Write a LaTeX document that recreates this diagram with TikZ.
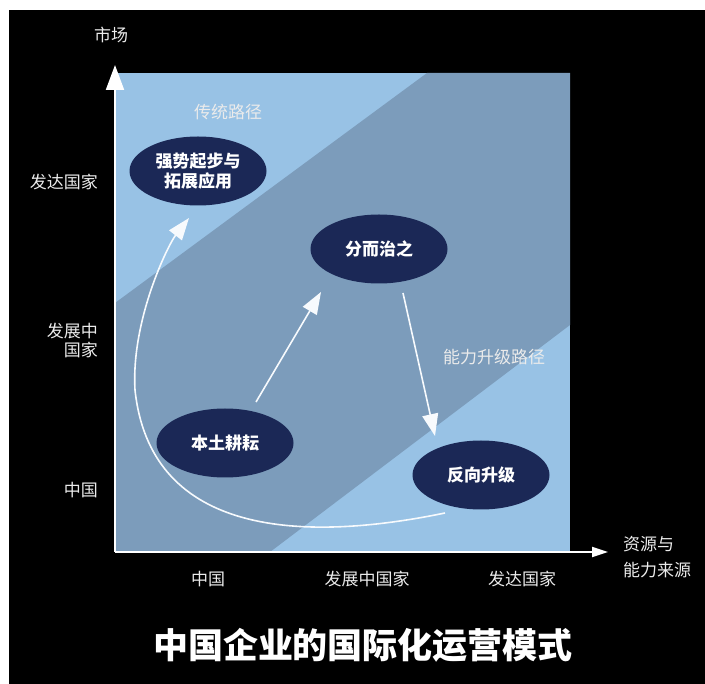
\documentclass[tikz,border=0pt]{standalone}
\usepackage{fontspec}
\newfontfamily\cjk{Noto Sans CJK SC}
\usetikzlibrary{shapes.geometric,arrows.meta,calc}
\definecolor{lightb}{RGB}{152,194,229}
\definecolor{bandb}{RGB}{124,156,187}
\definecolor{navy}{RGB}{27,40,86}
\definecolor{txt}{RGB}{235,235,235}
\begin{document}
\begin{tikzpicture}[x=1pt,y=-1pt,
  oval/.style={ellipse, fill=navy, minimum width=137pt, minimum height=69pt, inner sep=0pt, text=white, font=\cjk\bfseries\fontsize{17}{20}\selectfont, align=center},
  lbl/.style={text=txt, font=\cjk\fontsize{17}{19}\selectfont, inner sep=0pt},
  arr/.style={draw=white!92!lightb, line width=1.6pt, -{Triangle[width=16pt,length=22pt]}},
]
\useasboundingbox (0,0) rectangle (705,684);
\fill[white] (0,0) rectangle (705,684);
\fill[black] (9,10) rectangle (705,684);
\fill[lightb] (115,73) rectangle (570,552);
\fill[bandb] (115,303) -- (427,73) -- (570,73) -- (570,325) -- (270,552) -- (115,552) -- cycle;
% axes
\coordinate (O) at (115,552);
\coordinate (ytip) at (115,65);
\coordinate (xtip) at (608,552);
\draw[white, line width=2pt, -{Triangle[width=18pt,length=25pt]}] (O) -- (ytip);
\draw[white, line width=2pt, -{Triangle[width=10pt,length=16pt]}] (O) -- (xtip);
% axis labels
\node[lbl] (ym) at (111,35) {市场};
\node[lbl, anchor=east] (y3) at (98,182) {发达国家};
\node[lbl, anchor=east, align=right] (y2) at (98,341) {发展中\\国家};
\node[lbl, anchor=east] (y1) at (98,490) {中国};
\node[lbl] (x1) at (208,579) {中国};
\node[lbl] (x2) at (367,579) {发展中国家};
\node[lbl] (x3) at (522,579) {发达国家};
\node[lbl, anchor=west, align=left, font=\cjk\fontsize{17}{26}\selectfont] (xm) at (623,557) {资源与\\能力来源};
% title
\node[text=white, font=\cjk\bfseries\fontsize{35}{40}\selectfont] (title) at (363,645) {中国企业的国际化运营模式};
% path labels
\node[lbl] (ct) at (228,112) {传统路径};
\node[lbl] (nl) at (494,357) {能力升级路径};
% ellipses
\node[oval] (qs) at (198,171) {强势起步与\\拓展应用};
\node[oval] (fz) at (379,249) {分而治之};
\node[oval] (bt) at (225,443) {本土耕耘};
\node[oval] (fx) at (481,475) {反向升级};
% arrows
\draw[arr] ($(bt)+(31,-41)$) -- ($(fz)+(-58,43)$);
\draw[arr] ($(fz)+(24,44)$) -- ($(fx)+(-46,-39)$);
\draw[arr] ($(fx)+(-36,38)$) .. controls (290,545) and (150,530) .. (135,390) .. controls (131,320) and (168,245) .. ($(qs)+(-9,47)$);
\end{tikzpicture}
\end{document}
